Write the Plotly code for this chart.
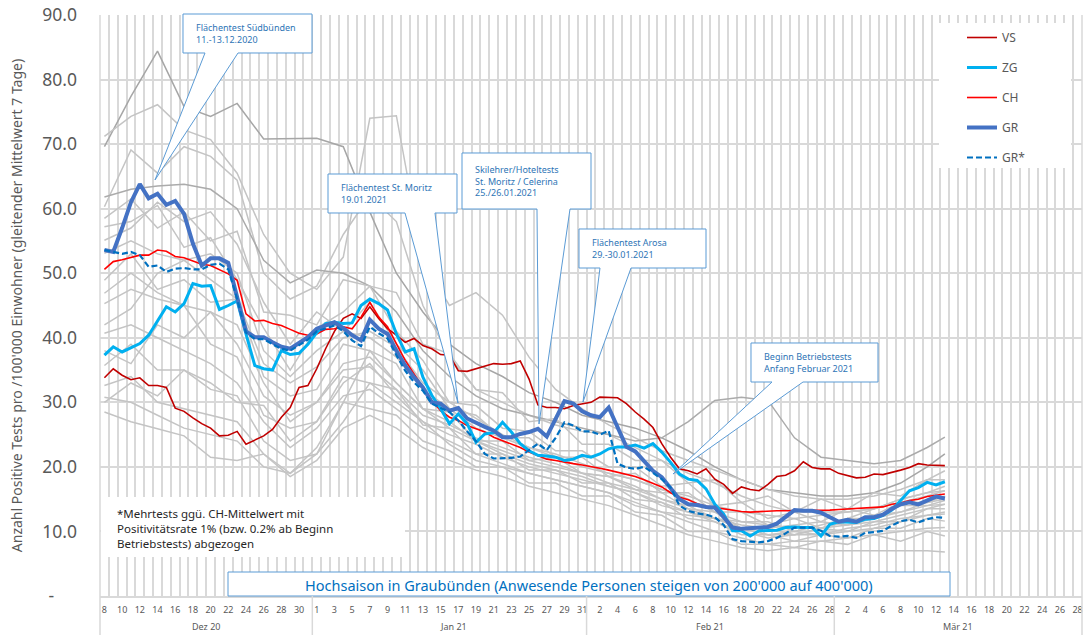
import pandas as pd
import plotly.graph_objects as go

# ---------------- data ----------------
START = "2020-12-08"
N_DAYS = 96  # 08.12.2020 .. 13.03.2021

VS = [33.8, 35.2, 34.2, 33.5, 33.8, 32.6, 32.6, 32.3, 29.1, 28.6,
      27.6, 26.7, 26.0, 24.8, 24.9, 25.5, 23.5, 24.1, 24.8, 25.8,
      27.7, 29.2, 32.3, 32.6, 35.2, 38.3, 41.0, 43.0, 43.7, 43.0,
      44.8, 43.0, 41.4, 40.4, 39.3, 39.9, 38.8, 38.3, 37.4, 37.3,
      34.9, 34.8, 35.2, 35.7, 36.0, 35.9, 36.0, 36.4, 33.6, 29.6,
      29.2, 29.2, 29.0, 29.5, 29.8, 30.0, 30.8, 30.7, 30.7, 29.8,
      28.5, 27.4, 26.1, 23.6, 21.5, 19.7, 19.4, 18.9, 19.7, 18.1,
      17.3, 15.9, 16.9, 16.5, 16.3, 17.3, 18.5, 18.7, 19.4, 20.8,
      19.9, 19.7, 19.7, 19.0, 18.6, 18.3, 18.4, 18.9, 18.8, 19.1,
      19.5, 19.9, 20.5, 20.3, 20.2, 20.2]

ZG = [37.3, 38.6, 37.8, 38.5, 39.1, 40.4, 42.7, 44.8, 44.0, 45.3,
      48.4, 48.0, 48.1, 44.4, 45.0, 45.7, 40.6, 35.7, 35.2, 35.0,
      38.0, 37.4, 37.6, 39.0, 40.8, 42.2, 42.4, 42.2, 42.3, 45.0,
      46.0, 45.3, 44.3, 40.6, 37.8, 38.3, 33.9, 31.1, 29.0, 26.7,
      28.2, 26.7, 23.8, 25.1, 25.3, 26.9, 25.4, 23.6, 22.5, 21.8,
      21.7, 21.5, 21.0, 21.2, 21.8, 21.5, 22.0, 22.8, 23.1, 23.1,
      23.4, 22.9, 23.6, 22.3, 20.7, 18.9, 18.1, 17.9, 16.6, 14.2,
      12.7, 10.1, 10.1, 9.3, 10.1, 10.1, 10.2, 10.6, 10.7, 10.6,
      10.6, 9.3, 11.1, 11.5, 11.5, 11.4, 11.9, 12.0, 12.5, 13.3,
      14.8, 16.3, 16.8, 17.6, 17.2, 17.7]

CH = [50.6, 51.8, 52.1, 52.4, 52.8, 52.8, 53.6, 53.4, 52.6, 52.4,
      51.9, 51.4, 51.2, 50.5, 49.9, 48.9, 43.7, 42.6, 42.7, 42.2,
      41.9, 41.3, 40.7, 40.4, 40.6, 41.3, 41.4, 41.7, 41.4, 43.2,
      45.5, 43.2, 41.7, 39.1, 36.5, 34.4, 32.3, 30.3, 28.7, 27.7,
      27.2, 26.4, 25.9, 25.4, 24.6, 24.1, 23.6, 23.0, 22.3, 21.8,
      21.2, 21.0, 20.7, 20.5, 20.3, 20.1, 19.8, 19.5, 19.2, 18.9,
      18.5, 18.0, 17.4, 16.9, 16.0, 15.3, 14.9, 14.3, 13.9, 13.7,
      13.4, 13.2, 13.1, 13.0, 13.1, 13.1, 13.2, 13.2, 13.2, 13.3,
      13.3, 13.3, 13.3, 13.4, 13.5, 13.5, 13.6, 13.7, 13.8, 14.2,
      14.4, 14.8, 15.0, 15.4, 15.6, 15.8]

GR = [53.6, 53.3, 57.0, 61.0, 63.8, 61.6, 62.3, 60.6, 61.2, 59.2,
      54.6, 51.2, 52.3, 52.3, 51.6, 46.5, 41.0, 40.1, 40.1, 39.3,
      38.6, 38.3, 39.2, 40.1, 41.4, 41.9, 42.4, 41.5, 40.4, 39.6,
      42.8, 41.4, 40.6, 38.0, 35.7, 33.9, 32.3, 30.0, 29.8, 28.7,
      29.1, 27.5, 26.8, 26.2, 25.6, 24.6, 24.6, 25.1, 25.4, 25.9,
      24.7, 27.4, 30.2, 29.8, 28.6, 28.0, 27.7, 29.2, 26.1, 23.1,
      22.4, 21.0, 19.4, 18.4, 16.6, 15.0, 14.2, 14.1, 13.8, 13.7,
      12.2, 10.6, 10.4, 10.5, 10.5, 10.7, 11.2, 12.2, 13.3, 13.2,
      13.2, 12.9, 12.2, 11.5, 11.8, 11.5, 12.2, 12.2, 12.6, 13.5,
      14.2, 14.5, 14.2, 14.8, 15.4, 15.1]

GR_STAR = [53.6, 53.3, 53.0, 53.3, 52.8, 51.0, 51.2, 50.2, 50.7, 50.8,
           50.6, 50.6, 51.3, 51.5, 50.6, 46.0, 40.8, 39.8, 39.8, 39.0,
           38.3, 38.0, 38.8, 39.7, 41.0, 41.5, 41.9, 41.0, 39.6, 38.7,
           41.7, 40.7, 39.9, 37.3, 34.9, 33.1, 31.8, 29.8, 29.2, 28.5,
           27.2, 25.5, 24.0, 22.0, 21.3, 21.3, 21.4, 21.6, 22.6, 23.6,
           22.6, 24.5, 26.9, 26.4, 25.5, 25.5, 25.0, 25.6, 20.5, 19.9,
           19.7, 20.0, 19.1, 18.1, 16.8, 14.0, 13.2, 12.8, 12.6, 12.2,
           11.0, 8.8, 8.5, 8.4, 8.3, 8.5, 9.0, 9.7, 10.6, 10.6,
           10.6, 10.1, 9.3, 9.2, 9.3, 9.0, 9.8, 9.9, 10.1, 10.9,
           11.6, 11.8, 11.4, 11.9, 12.2, 12.1]

# other cantons (grey), read every 3rd day
GREY_DAY_IDX = list(range(0, 94, 3)) + [95]
GREY = [
    [69.6, 77.4, 84.4, 75.8, 74.3, 76.3, 70.8, 70.8, 70.9, 69.6, 59.5,
     50.0, 44.0, 39.0, 36.0, 34.0, 31.5, 30.0, 28.0, 27.0, 26.0, 24.5,
     22.5, 20.0, 18.0, 16.5, 16.0, 15.5, 15.5, 16.0, 17.5, 20.0, 22.0],
    [71.2, 74.3, 76.1, 72.2, 70.7, 65.5, 56.0, 50.0, 47.5, 52.5, 74.0,
     74.4, 52.0, 45.0, 47.0, 43.5, 37.0, 32.0, 29.0, 26.5, 24.5, 22.5,
     21.0, 19.5, 18.0, 16.5, 15.5, 15.0, 15.0, 15.5, 16.5, 18.0, 19.4],
    [60.3, 69.1, 65.5, 69.6, 68.1, 64.4, 50.0, 46.0, 48.0, 56.0, 62.0,
     58.0, 45.0, 37.0, 32.0, 30.0, 28.0, 26.5, 25.5, 25.0, 23.0, 21.0,
     19.0, 17.5, 15.5, 14.0, 13.0, 13.0, 13.0, 13.5, 14.5, 15.5, 16.3],
    [61.8, 63.0, 63.5, 63.8, 63.0, 60.0, 52.0, 48.5, 50.5, 50.0, 48.0,
     44.0, 38.0, 34.0, 31.0, 29.0, 28.0, 27.0, 26.0, 25.0, 24.0, 24.5,
     27.0, 30.3, 30.8, 30.3, 24.5, 21.5, 21.0, 20.5, 21.0, 23.0, 24.6],
    [58.5, 61.5, 57.0, 59.5, 55.0, 56.5, 44.0, 43.5, 42.0, 49.0, 48.0,
     47.0, 39.0, 37.5, 32.0, 31.5, 27.0, 27.5, 23.5, 23.5, 21.0, 21.0,
     17.5, 18.0, 14.5, 15.5, 13.0, 15.0, 13.5, 16.0, 15.5, 18.0, 18.0],
    [57.2, 58.0, 60.5, 54.0, 55.5, 49.0, 41.5, 35.0, 41.5, 44.0, 48.0,
     41.0, 36.5, 30.0, 29.5, 26.0, 25.5, 22.5, 22.5, 20.0, 20.0, 17.0,
     17.5, 14.0, 14.5, 12.0, 13.0, 11.5, 13.5, 12.5, 14.5, 14.5, 15.5],
    [55.1, 57.0, 61.0, 58.0, 59.5, 54.5, 45.5, 39.0, 44.0, 41.0, 45.5,
     39.0, 35.0, 29.0, 28.0, 24.5, 24.5, 21.5, 21.5, 18.5, 19.0, 16.0,
     16.0, 13.0, 13.0, 11.0, 12.0, 10.5, 12.0, 12.0, 14.0, 14.0, 14.8],
    [53.1, 55.0, 53.0, 52.0, 53.0, 50.0, 38.0, 34.0, 38.0, 41.0, 40.0,
     37.0, 32.0, 29.0, 26.0, 24.5, 23.0, 21.5, 20.0, 19.0, 18.0, 16.5,
     15.0, 13.0, 11.5, 11.0, 10.5, 10.5, 11.0, 11.5, 12.5, 13.5, 14.2],
    [48.9, 53.0, 47.5, 49.0, 45.5, 46.0, 34.0, 31.0, 32.0, 39.0, 38.0,
     36.0, 29.0, 28.5, 24.0, 24.0, 21.0, 21.5, 19.0, 18.5, 16.5, 16.0,
     13.5, 13.0, 10.5, 10.5, 9.5, 10.5, 10.0, 11.5, 11.5, 13.5, 13.5],
    [46.9, 50.0, 47.0, 45.0, 44.0, 42.0, 33.0, 27.0, 30.0, 36.0, 37.0,
     33.0, 29.0, 26.0, 24.0, 22.5, 21.0, 20.0, 19.0, 17.5, 16.5, 15.0,
     13.5, 12.0, 10.5, 9.5, 9.5, 9.5, 10.0, 10.5, 11.5, 12.5, 12.7],
    [45.3, 47.5, 46.0, 45.0, 39.0, 37.0, 28.0, 26.0, 27.0, 34.0, 33.0,
     32.0, 26.5, 26.0, 22.0, 22.0, 19.5, 19.5, 17.5, 17.5, 15.0, 14.5,
     12.0, 11.5, 9.5, 9.5, 8.5, 9.5, 9.0, 10.5, 10.5, 12.0, 11.6],
    [40.7, 42.0, 40.0, 38.0, 36.0, 33.0, 27.0, 23.0, 26.0, 31.0, 32.0,
     29.0, 26.0, 24.0, 22.0, 20.5, 19.0, 18.0, 17.0, 16.0, 14.5, 13.0,
     11.5, 10.0, 9.0, 8.0, 8.5, 8.5, 9.0, 9.5, 10.0, 10.5, 10.6],
    [35.7, 39.0, 35.0, 35.0, 32.0, 31.0, 24.0, 21.0, 22.0, 30.0, 29.0,
     28.0, 24.0, 22.5, 20.0, 20.0, 17.5, 17.5, 15.5, 15.5, 13.0, 12.5,
     10.0, 10.0, 8.0, 8.0, 7.5, 8.5, 8.0, 9.5, 8.5, 10.0, 9.3],
    [32.6, 34.0, 30.0, 29.0, 28.0, 27.0, 22.0, 18.5, 21.0, 26.0, 28.0,
     26.0, 23.0, 21.0, 19.5, 18.5, 17.0, 16.0, 15.0, 14.0, 12.5, 11.0,
     9.5, 8.5, 7.5, 7.0, 7.5, 7.0, 7.0, 7.0, 7.0, 7.0, 6.8],
    [30.8, 30.0, 28.0, 26.0, 25.0, 24.0, 20.0, 19.0, 22.0, 27.0, 33.0,
     30.0, 27.0, 23.5, 21.0, 20.0, 19.0, 18.0, 17.0, 16.0, 14.0, 13.0,
     12.5, 12.0, 10.5, 9.5, 10.0, 11.0, 12.0, 13.5, 15.0, 16.0, 16.3],
    [28.5, 27.0, 25.9, 24.8, 21.5, 21.0, 22.0, 19.0, 23.0, 30.0, 38.0,
     33.0, 29.0, 27.0, 24.0, 22.0, 20.5, 19.5, 18.5, 17.0, 16.0, 14.5,
     13.0, 11.5, 10.0, 9.0, 9.5, 10.5, 11.5, 12.5, 13.0, 14.0, 14.2],
    [42.0, 44.5, 50.0, 52.0, 49.0, 46.0, 36.0, 33.0, 35.5, 40.0, 41.0,
     38.5, 33.0, 30.0, 27.5, 25.0, 23.0, 22.0, 20.5, 19.0, 18.0, 16.5,
     15.5, 14.0, 13.0, 12.5, 12.0, 12.5, 13.0, 13.5, 15.0, 16.0, 17.0],
    [38.0, 36.0, 42.0, 40.0, 44.0, 39.0, 31.0, 28.0, 30.0, 35.0, 35.5,
     32.0, 28.0, 26.5, 24.5, 23.0, 21.5, 20.5, 19.0, 18.5, 17.0, 15.0,
     14.0, 12.0, 11.0, 10.5, 11.0, 11.5, 11.0, 12.0, 13.0, 14.5, 15.0],
    [30.0, 33.0, 31.0, 35.0, 33.0, 30.0, 29.5, 24.0, 27.0, 33.0, 36.0,
     31.0, 27.0, 25.0, 23.5, 21.5, 20.0, 19.0, 18.0, 17.0, 16.0, 14.0,
     13.0, 12.0, 11.5, 11.5, 10.0, 9.5, 10.5, 11.0, 12.0, 12.5, 13.0],
]
GREY_COLORS = ["#A6A6A6", "#C4C4C4", "#C4C4C4", "#ABABAB"] + ["#C4C4C4"] * 15

Y_TICKS = [0, 10, 20, 30, 40, 50, 60, 70, 80, 90]
Y_TICKTEXT = ["-\u00a0\u00a0\u00a0\u00a0\u00a0", "10.0", "20.0", "30.0", "40.0",
              "50.0", "60.0", "70.0", "80.0", "90.0"]
MONTHS = [("Dez 20", "2020-12-19 12:00"), ("Jan 21", "2021-01-16 12:00"),
          ("Feb 21", "2021-02-14 12:00"), ("Mär 21", "2021-03-14 12:00")]
MONTH_BOUNDS = ["2020-12-31 12:00", "2021-01-31 12:00", "2021-02-28 12:00"]

# ---------------- layout helpers ----------------
W, H = 1090, 635
L, R, T, B = 100, 8, 15, 39
PW, PH = W - L - R, H - T - B


def fx(px):
    return (px - L) / PW


def fy(py):
    return (H - B - py) / PH


dates = pd.date_range(START, periods=N_DAYS, freq="D")
grey_dates = dates[GREY_DAY_IDX]

fig = go.Figure()
for g, col in zip(GREY, GREY_COLORS):
    fig.add_trace(go.Scatter(x=grey_dates, y=g, mode="lines",
                             line=dict(color=col, width=1.5),
                             showlegend=False, hoverinfo="skip"))

SERIES = [
    ("VS", VS, "#C00000", 1.6, "solid", 1),
    ("CH", CH, "#FF0000", 1.6, "solid", 3),
    ("ZG", ZG, "#00B0F0", 3.0, "solid", 2),
    ("GR", GR, "#4472C4", 4.0, "solid", 4),
    ("GR*", GR_STAR, "#0070C0", 2.2, "6px,3px", 5),
]
for name, ys, col, w, dash, rank in SERIES:
    fig.add_trace(go.Scatter(x=dates, y=ys, name=name, mode="lines",
                             line=dict(color=col, width=w, dash=dash),
                             legendrank=rank, legendgroup=name))

BLUE_LINE = "#5B9BD5"
BLUE_TXT = "#2E75B6"
shapes = []
# white areas (legend, note)
shapes.append(dict(type="rect", xref="paper", yref="paper", x0=fx(939), x1=fx(1071),
                   y0=fy(168), y1=fy(23), fillcolor="white", line=dict(width=0), layer="above"))
shapes.append(dict(type="rect", xref="paper", yref="paper", x0=fx(101), x1=fx(405),
                   y0=fy(557), y1=fy(497), fillcolor="white", line=dict(width=0), layer="above"))
# Hochsaison box
shapes.append(dict(type="rect", xref="paper", yref="paper", x0=fx(228), x1=fx(950),
                   y0=fy(596), y1=fy(572), fillcolor="white",
                   line=dict(color=BLUE_LINE, width=1), layer="above"))


def callout(box, b1, b2, tip):
    x0, y0, x1, y1 = box
    pts = [(x0, y0), (x1, y0), (x1, y1), (b2, y1), tip, (b1, y1), (x0, y1)]
    path = "M " + " L ".join(f"{fx(a):.5f},{fy(b):.5f}" for a, b in pts) + " Z"
    return dict(type="path", xref="paper", yref="paper", path=path,
                fillcolor="white", line=dict(color=BLUE_LINE, width=1), layer="above")


CALLOUTS = [
    ((183, 14, 312, 53), 205, 238, (155, 180), "Flächentest Südbünden<br>11.-13.12.2020", 194),
    ((328, 174, 457, 213), 405, 435, (458, 403), "Flächentest St. Moritz<br>19.01.2021", 339),
    ((462, 153, 591, 209), 537, 570, (539, 424),
     "Skilehrer/Hoteltests<br>St. Moritz / Celerina<br>25./26.01.2021", 473),
    ((579, 229, 706, 268), 600, 631, (583, 402), "Flächentest Arosa<br>29.-30.01.2021", 590),
    ((751, 343, 878, 382), 772, 803, (673, 474), "Beginn Betriebstests<br>Anfang Februar 2021", 762),
]
annotations = []
for box, b1, b2, tip, txt, tx in CALLOUTS:
    shapes.append(callout(box, b1, b2, tip))
    annotations.append(dict(xref="paper", yref="paper", x=fx(tx), y=fy((box[1] + box[3]) / 2),
                            xanchor="left", yanchor="middle", align="left", showarrow=False,
                            text=txt, font=dict(size=9, color=BLUE_TXT)))

# borders and month separators
shapes.append(dict(type="line", xref="paper", yref="paper", x0=0, x1=0, y0=fy(635), y1=1,
                   line=dict(color="#D9D9D9", width=1.5), layer="above"))
shapes.append(dict(type="line", xref="paper", yref="paper", x0=1, x1=1, y0=fy(635), y1=1,
                   line=dict(color="#D9D9D9", width=1.5), layer="above"))
for mb in MONTH_BOUNDS:
    shapes.append(dict(type="line", xref="x", yref="paper", x0=mb, x1=mb, y0=fy(635), y1=0,
                       line=dict(color="#D9D9D9", width=1.5)))

for label, center in MONTHS:
    annotations.append(dict(xref="x", yref="paper", x=center, y=fy(626), xanchor="center",
                            yanchor="middle", showarrow=False, text=label,
                            font=dict(size=9, color="#595959")))

annotations.append(dict(xref="paper", yref="paper", x=fx(589), y=fy(585), xanchor="center",
                        yanchor="middle", showarrow=False,
                        text="Hochsaison in Graubünden (Anwesende Personen steigen von 200'000 auf 400'000)",
                        font=dict(size=14.5, color="#0070C0")))
annotations.append(dict(xref="paper", yref="paper", x=fx(115), y=fy(528), xanchor="left",
                        yanchor="middle", align="left", showarrow=False,
                        text="*Mehrtests ggü. CH-Mittelwert mit<br>Positivitätsrate 1% (bzw. 0.2% ab Beginn<br>Betriebstests) abgezogen",
                        font=dict(size=11.5, color="#262626")))

fig.update_layout(
    width=W, height=H,
    margin=dict(l=L, r=R, t=T, b=B, autoexpand=False),
    paper_bgcolor="white", plot_bgcolor="white",
    font=dict(family="Noto Sans, Open Sans, sans-serif", color="#595959"),
    showlegend=True,
    legend=dict(x=fx(962), y=fy(23), xanchor="left", yanchor="top",
                bgcolor="rgba(0,0,0,0)", font=dict(size=12, color="#595959"),
                traceorder="grouped", tracegroupgap=11),
    xaxis=dict(
        type="date",
        range=["2020-12-07 12:00", "2021-03-28 12:00"],
        tick0=START, dtick=2 * 86400000, tickformat="%-d",
        ticks="", showgrid=False, zeroline=False,
        tickfont=dict(size=9, color="#595959"),
        ticklabelstandoff=4,
        showline=True, linecolor="#D9D9D9", linewidth=1.5,
        minor=dict(tick0="2020-12-07 12:00", dtick=86400000, showgrid=True,
                   gridcolor="#D9D9D9", gridwidth=1.5, ticks=""),
    ),
    yaxis=dict(
        range=[0, 90], tickmode="array", tickvals=Y_TICKS, ticktext=Y_TICKTEXT,
        showgrid=True, gridcolor="#D9D9D9", gridwidth=1.5, zeroline=False,
        ticks="", tickfont=dict(size=17.5, color="#595959"), ticklabelstandoff=22,
        title=dict(text="Anzahl Positive Tests pro /100'000 Einwohner (gleitender Mittelwert 7 Tage)",
                   font=dict(size=14, color="#595959"), standoff=16),
    ),
    shapes=shapes,
    annotations=annotations,
)

fig.write_html("out.html", config={"displayModeBar": False},
               post_script="document.body.style.margin='0px';document.body.style.padding='0px';")
